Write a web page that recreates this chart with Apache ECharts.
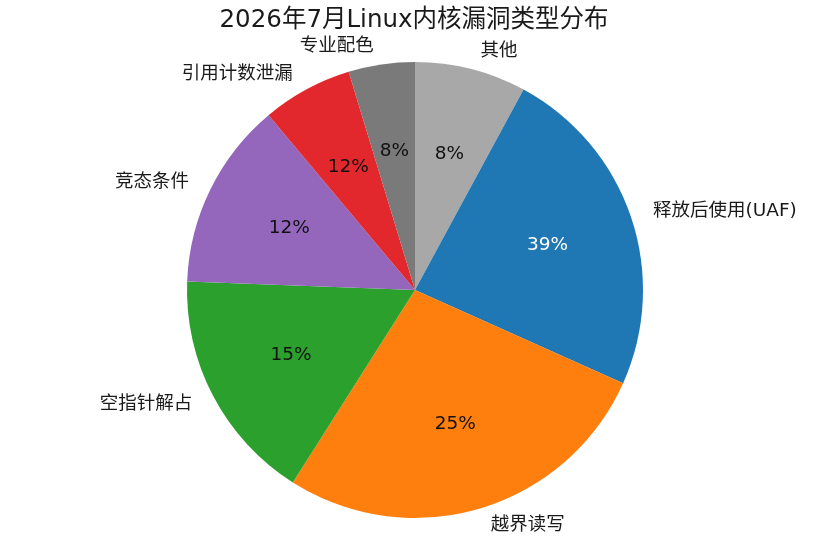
<!DOCTYPE html>
<html>
<head>
<meta charset="utf-8">
<script src="https://cdn.jsdelivr.net/npm/echarts@6/dist/echarts.min.js"></script>
<style>
html,body{margin:0;padding:0;background:#fff;}
#c{width:828px;height:552px;}
</style>
</head>
<body>
<div id="c"></div>
<script>
// Categories in clockwise order starting from 12 o'clock
var categories = ['其他', '释放后使用(UAF)', '越界读写', '空指针解占', '竞态条件', '引用计数泄漏', '专业配色'];
var sliceShares = [7.9, 23.8, 27.3, 16.6, 13.3, 6.4, 4.7];
// Percent labels as printed inside the wedges
var pctLabels = ['8%', '39%', '25%', '15%', '12%', '12%', '8%'];
var colors = ['#a8a8a8', '#1f77b4', '#ff7f0e', '#2ca02c', '#9467bd', '#e2282c', '#7a7a7a'];
var pctColors = ['#111', '#fff', '#111', '#111', '#111', '#111', '#111'];

var FONT = '"DejaVu Sans", "Noto Sans CJK SC", sans-serif';
var R = 228;

var outerData = categories.map(function (n, i) {
  return { name: n, value: sliceShares[i], itemStyle: { color: colors[i] } };
});
var innerData = categories.map(function (n, i) {
  return {
    name: n, value: sliceShares[i],
    itemStyle: { color: 'rgba(0,0,0,0)' },
    label: { formatter: pctLabels[i], color: pctColors[i] }
  };
});

var chart = echarts.init(document.getElementById('c'));
chart.setOption({
  animation: false,
  backgroundColor: '#fff',
  title: {
    text: '2026年7月Linux内核漏洞类型分布',
    left: 'center',
    top: 3,
    textStyle: { fontFamily: FONT, fontSize: 24.5, fontWeight: 'normal', color: '#1a1a1a' }
  },
  series: [
    {
      type: 'pie',
      center: [415, 290],
      radius: [0, R],
      startAngle: 90,
      clockwise: true,
      avoidLabelOverlap: false,
      silent: true,
      data: outerData,
      itemStyle: { borderWidth: 0 },
      label: {
        show: true,
        position: 'outside',
        formatter: '{b}',
        fontFamily: FONT,
        fontSize: 18.5,
        color: '#1a1a1a'
      },
      labelLine: { show: false, length: 18, length2: 0 },
      emphasis: { disabled: true }
    },
    {
      type: 'pie',
      center: [415, 290],
      radius: [Math.round(R * 0.2), R],
      startAngle: 90,
      clockwise: true,
      avoidLabelOverlap: false,
      silent: true,
      data: innerData,
      label: {
        show: true,
        position: 'inside',
        fontFamily: FONT,
        fontSize: 18.5
      },
      labelLine: { show: false },
      emphasis: { disabled: true }
    }
  ]
});
</script>
</body>
</html>
